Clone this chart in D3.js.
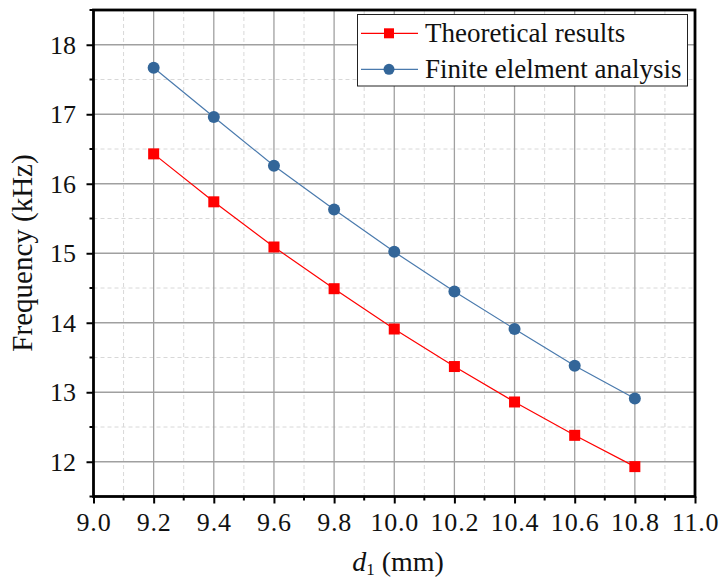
<!DOCTYPE html>
<html><head><meta charset="utf-8">
<script src="https://cdn.jsdelivr.net/npm/d3@7"></script>
<style>body{margin:0;background:#fff}svg{display:block}</style>
</head><body>
<script>
const xValues = [9.2, 9.4, 9.6, 9.8, 10.0, 10.2, 10.4, 10.6, 10.8];
const theoretical = [16.43, 15.74, 15.09, 14.49, 13.91, 13.37, 12.86, 12.38, 11.93];
const fea = [17.67, 16.96, 16.26, 15.63, 15.02, 14.45, 13.91, 13.38, 12.91];
const xTicks = [9.0, 9.2, 9.4, 9.6, 9.8, 10.0, 10.2, 10.4, 10.6, 10.8, 11.0];
const yTicks = [12, 13, 14, 15, 16, 17, 18];
const seriesNames = ["Theoretical results", "Finite elelment analysis"];

const FONT = "'Liberation Serif', 'Times New Roman', 'DejaVu Serif', serif";
const W = 722, H = 579;
const L = 93.5, R = 695, T = 10, B = 496.5;
const svg = d3.select("body").append("svg").attr("width", W).attr("height", H).style("font-family", FONT);
const x = d3.scaleLinear().domain([9.0, 11.0]).range([L, R]);
const y = d3.scaleLinear().domain([11.5, 18.5]).range([B, T]);

const minorX = d3.range(9.1, 11.0, 0.2);
const minorY = d3.range(11.5, 18.6, 1);
const g = svg.append("g");
g.selectAll(".mx").data(minorX).join("line").attr("x1", d => x(d)).attr("x2", d => x(d)).attr("y1", T).attr("y2", B)
  .attr("stroke", "#d8d8d8").attr("stroke-dasharray", "4,3").attr("stroke-width", 1);
g.selectAll(".my").data(minorY).join("line").attr("y1", d => y(d)).attr("y2", d => y(d)).attr("x1", L).attr("x2", R)
  .attr("stroke", "#d8d8d8").attr("stroke-dasharray", "4,3").attr("stroke-width", 1);
g.selectAll(".gx").data(xTicks.slice(1, -1)).join("line").attr("x1", d => x(d)).attr("x2", d => x(d)).attr("y1", T).attr("y2", B)
  .attr("stroke", "#a0a0a0").attr("stroke-width", 1.3);
g.selectAll(".gy").data(yTicks).join("line").attr("y1", d => y(d)).attr("y2", d => y(d)).attr("x1", L).attr("x2", R)
  .attr("stroke", "#a0a0a0").attr("stroke-width", 1.3);

const red = "#ff0000", blue = "#336699";
const line = d3.line().x((d, i) => x(xValues[i])).y(d => y(d));
svg.append("path").datum(theoretical).attr("d", line).attr("fill", "none").attr("stroke", red).attr("stroke-width", 1.2);
svg.append("path").datum(fea).attr("d", line).attr("fill", "none").attr("stroke", "#4a7aad").attr("stroke-width", 1.2);
svg.selectAll(".sq").data(theoretical).join("rect").attr("x", (d, i) => x(xValues[i]) - 5.5).attr("y", d => y(d) - 5.5)
  .attr("width", 11).attr("height", 11).attr("fill", red);
svg.selectAll(".ci").data(fea).join("circle").attr("cx", (d, i) => x(xValues[i])).attr("cy", d => y(d)).attr("r", 6).attr("fill", blue);

const xAxis = svg.append("g").attr("transform", `translate(0,${B})`)
  .call(d3.axisBottom(x).tickValues(xTicks).tickFormat(d3.format(".1f")).tickSize(7).tickPadding(9));
const yAxis = svg.append("g").attr("transform", `translate(${L},0)`)
  .call(d3.axisLeft(y).tickValues(yTicks).tickFormat(d3.format("d")).tickSize(7).tickPadding(10.5));
[xAxis, yAxis].forEach(a => {
  a.attr("font-family", null).attr("font-size", null);
  a.select(".domain").remove();
  a.selectAll(".tick line").attr("stroke", "#000").attr("stroke-width", 2);
  a.selectAll("text").style("font-family", FONT).style("font-size", "26px").attr("fill", "#111");
});
xAxis.selectAll("text").style("letter-spacing", "0.8px");
svg.selectAll(".mtx").data(minorX).join("line").attr("x1", d => x(d)).attr("x2", d => x(d)).attr("y1", B).attr("y2", B + 4)
  .attr("stroke", "#000").attr("stroke-width", 2);
svg.selectAll(".mty").data(minorY).join("line").attr("y1", d => y(d)).attr("y2", d => y(d)).attr("x1", L).attr("x2", L - 4)
  .attr("stroke", "#000").attr("stroke-width", 2);
svg.append("rect").attr("x", L).attr("y", T).attr("width", R - L).attr("height", B - T)
  .attr("fill", "none").attr("stroke", "#000").attr("stroke-width", 2.8);

svg.append("text").attr("transform", `translate(32,253) rotate(-90)`).attr("text-anchor", "middle")
  .style("font-family", FONT).style("font-size", "29px").attr("fill", "#111").text("Frequency (kHz)");
const xt = svg.append("text").attr("x", 398).attr("y", 571).attr("text-anchor", "middle")
  .style("font-family", FONT).style("font-size", "28px").attr("fill", "#111");
xt.append("tspan").style("font-style", "italic").text("d");
xt.append("tspan").attr("dy", 4).style("font-size", "17px").text("1");
xt.append("tspan").attr("dy", -4).text(" (mm)");

const lg = svg.append("g");
lg.append("rect").attr("x", 357.5).attr("y", 14.5).attr("width", 330).attr("height", 71.5).attr("fill", "#fff").attr("stroke", "#222").attr("stroke-width", 1);
const items = [{name: seriesNames[0], c: red, shape: "sq"}, {name: seriesNames[1], c: blue, shape: "ci"}];
items.forEach((it, i) => {
  const cy = 33.3 + i * 36;
  lg.append("line").attr("x1", 361).attr("x2", 418).attr("y1", cy).attr("y2", cy).attr("stroke", i ? "#4a7aad" : red).attr("stroke-width", 1.2);
  if (it.shape === "sq") lg.append("rect").attr("x", 384).attr("y", cy - 5).attr("width", 10).attr("height", 10).attr("fill", it.c);
  else lg.append("circle").attr("cx", 389).attr("cy", cy).attr("r", 5.5).attr("fill", it.c);
  lg.append("text").attr("x", 425).attr("y", cy + 8.5).style("font-family", FONT).style("font-size", "27px").attr("fill", "#111").text(it.name);
});
</script>
</body></html>
